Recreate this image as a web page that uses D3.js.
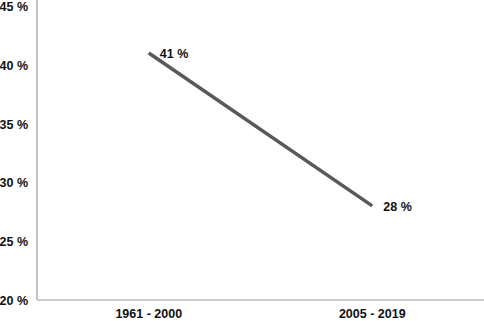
<!DOCTYPE html>
<html>
<head>
<meta charset="utf-8">
<script src="https://cdn.jsdelivr.net/npm/d3@7"></script>
<style>
body { margin: 0; background: #fff; }
text { font-family: "Liberation Sans", Arial, sans-serif; font-weight: bold; fill: #111; }
</style>
</head>
<body>
<div class="chart"></div>
<script>
const categories = ['1961 - 2000', '2005 - 2019'];
const values = [41, 28];
const yTicks = [20, 25, 30, 35, 40, 45];

const w = 484, h = 321;
const padLeft = 37, padRight = 484, padTop = 6, padBottom = 300;

const svg = d3.select('div.chart').append('svg')
  .attr('width', w).attr('height', h);

const xScale = d3.scalePoint().domain(categories).range([padLeft, padRight]).padding(0.5);
const yScale = d3.scaleLinear().domain([20, 45]).range([padBottom, padTop]);

// axes lines
svg.append('line')
  .attr('x1', padLeft).attr('x2', padLeft).attr('y1', 0).attr('y2', padBottom)
  .attr('stroke', '#999').attr('stroke-width', 1.2);
svg.append('line')
  .attr('x1', padLeft).attr('x2', padRight).attr('y1', padBottom).attr('y2', padBottom)
  .attr('stroke', '#bbb').attr('stroke-width', 1.5);

// y tick labels
svg.selectAll('text.ytick')
  .data(yTicks)
  .enter().append('text')
  .attr('class', 'ytick')
  .attr('x', 28)
  .attr('y', d => Math.max(yScale(d) + 5, 11))
  .attr('text-anchor', 'end')
  .style('font-size', '12.5px')
  .text(d => d + ' %');

// x labels
svg.selectAll('text.xtick')
  .data(categories)
  .enter().append('text')
  .attr('class', 'xtick')
  .attr('x', d => xScale(d))
  .attr('y', 318)
  .attr('text-anchor', 'middle')
  .style('font-size', '12.5px')
  .text(d => d);

const pts = categories.map((c, i) => [xScale(c), yScale(values[i])]);

svg.append('path')
  .attr('d', d3.line()(pts))
  .attr('fill', 'none')
  .attr('stroke', '#595959')
  .attr('stroke-width', 3.5);

svg.selectAll('text.lbl')
  .data(values)
  .enter().append('text')
  .attr('class', 'lbl')
  .attr('x', (d, i) => xScale(categories[i]) + 11)
  .attr('y', d => yScale(d) + 5)
  .style('font-size', '12.5px')
  .text(d => d + ' %');
</script>
</body>
</html>
